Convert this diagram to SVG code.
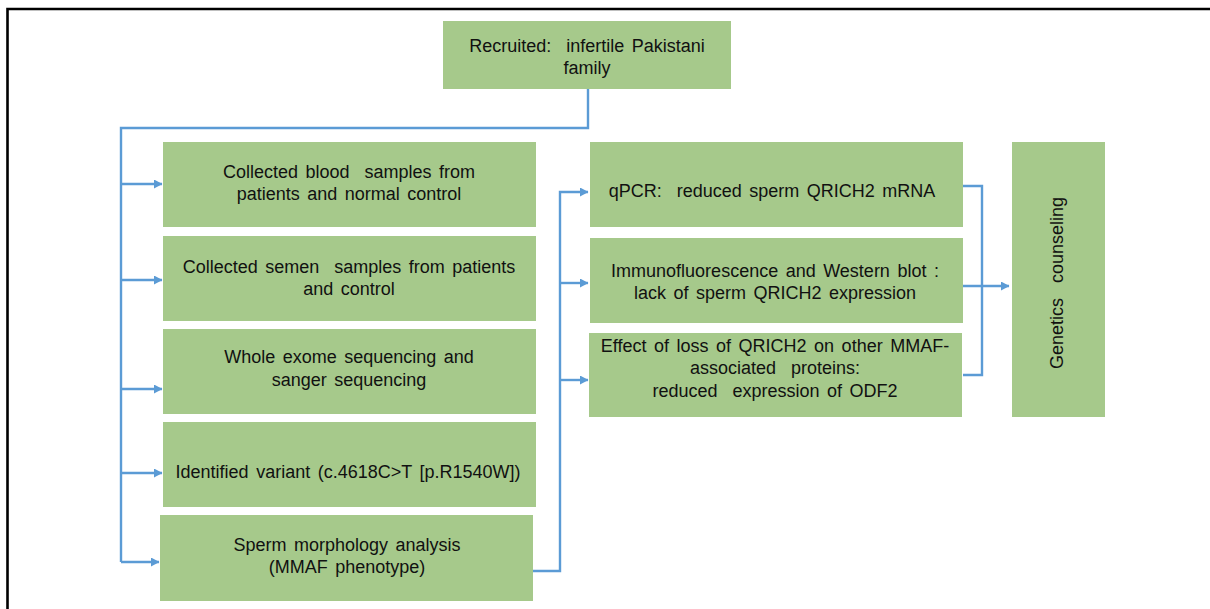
<svg xmlns="http://www.w3.org/2000/svg" width="1210" height="609" viewBox="0 0 1210 609">
  <style>
    .box { fill: #A6C98B; }
    .lbl { font-family: "Liberation Sans", Arial, sans-serif; font-size: 18px; fill: #111; text-anchor: middle; word-spacing: 2.5px; white-space: pre; }
    .wire { fill: none; stroke: #5B9BD5; stroke-width: 2.4; }
  </style>
  <defs>
    <marker id="arrow" markerUnits="userSpaceOnUse" markerWidth="10" markerHeight="10" refX="8" refY="4.5" orient="auto">
      <path d="M0,0 L8.5,4.5 L0,9 z" fill="#5B9BD5"/>
    </marker>
  </defs>

  <rect x="0" y="0" width="1210" height="609" fill="#ffffff"/>
  <!-- outer frame: top and left edges -->
  <path d="M7.5,609 V9 H1210" fill="none" stroke="#000" stroke-width="2.6"/>

  <g id="connectors">
    <path class="wire" d="M588,89 V128 H121 V562"/>
    <path class="wire" d="M121,184 H162" marker-end="url(#arrow)"/>
    <path class="wire" d="M121,280 H162" marker-end="url(#arrow)"/>
    <path class="wire" d="M121,389 H162" marker-end="url(#arrow)"/>
    <path class="wire" d="M121,473 H162" marker-end="url(#arrow)"/>
    <path class="wire" d="M121,562 H159" marker-end="url(#arrow)"/>
    <path class="wire" d="M533,571 H560 V192 H588" marker-end="url(#arrow)"/>
    <path class="wire" d="M560,283 H588" marker-end="url(#arrow)"/>
    <path class="wire" d="M560,380 H588" marker-end="url(#arrow)"/>
    <path class="wire" d="M963,186 H982 V375 H963"/>
    <path class="wire" d="M963,286 H1009" marker-end="url(#arrow)"/>
  </g>

  <g id="recruited">
    <rect class="box" x="443" y="21" width="288" height="68"/>
    <text class="lbl" x="587" y="52">Recruited:  infertile Pakistani</text>
    <text class="lbl" x="587" y="74">family</text>
  </g>

  <g id="blood-samples">
    <rect class="box" x="163" y="142" width="373" height="85"/>
    <text class="lbl" x="349" y="178">Collected blood  samples from</text>
    <text class="lbl" x="349" y="200">patients and normal control</text>
  </g>

  <g id="semen-samples">
    <rect class="box" x="163" y="236" width="373" height="85"/>
    <text class="lbl" x="349" y="273">Collected semen  samples from patients</text>
    <text class="lbl" x="349" y="295">and control</text>
  </g>

  <g id="sequencing">
    <rect class="box" x="163" y="329" width="373" height="85"/>
    <text class="lbl" x="349" y="363">Whole exome sequencing and</text>
    <text class="lbl" x="349" y="386">sanger sequencing</text>
  </g>

  <g id="variant">
    <rect class="box" x="163" y="422" width="373" height="85"/>
    <text class="lbl" x="348" y="478">Identified variant (c.4618C&gt;T [p.R1540W])</text>
  </g>

  <g id="morphology">
    <rect class="box" x="160" y="515" width="373" height="86"/>
    <text class="lbl" x="347" y="551">Sperm morphology analysis</text>
    <text class="lbl" x="347" y="573">(MMAF phenotype)</text>
  </g>

  <g id="qpcr">
    <rect class="box" x="590" y="142" width="373" height="85"/>
    <text class="lbl" x="772" y="197">qPCR:  reduced sperm QRICH2 mRNA</text>
  </g>

  <g id="immunofluorescence">
    <rect class="box" x="590" y="238" width="373" height="85"/>
    <text class="lbl" x="775" y="277">Immunofluorescence and Western blot :</text>
    <text class="lbl" x="775" y="299">lack of sperm QRICH2 expression</text>
  </g>

  <g id="odf2-effect">
    <rect class="box" x="589" y="333" width="373" height="84"/>
    <text class="lbl" x="775" y="352">Effect of loss of QRICH2 on other MMAF-</text>
    <text class="lbl" x="775" y="374">associated  proteins:</text>
    <text class="lbl" x="775" y="397">reduced  expression of ODF2</text>
  </g>

  <g id="counseling">
    <rect class="box" x="1012" y="142" width="93" height="275"/>
    <text class="lbl" transform="translate(1063,283) rotate(-90)" x="0" y="0">Genetics  counseling</text>
  </g>
</svg>
